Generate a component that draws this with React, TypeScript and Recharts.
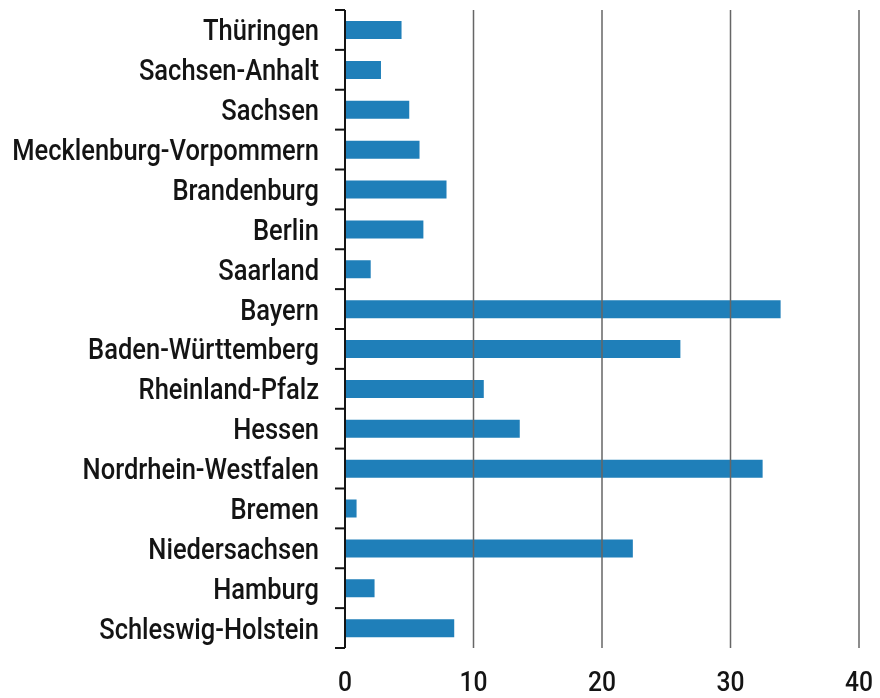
import { Bar, BarChart, ReferenceLine, XAxis, YAxis } from "recharts";

const states = [
  "Thüringen",
  "Sachsen-Anhalt",
  "Sachsen",
  "Mecklenburg-Vorpommern",
  "Brandenburg",
  "Berlin",
  "Saarland",
  "Bayern",
  "Baden-Württemberg",
  "Rheinland-Pfalz",
  "Hessen",
  "Nordrhein-Westfalen",
  "Bremen",
  "Niedersachsen",
  "Hamburg",
  "Schleswig-Holstein",
];
const values = [4.4, 2.8, 5.0, 5.8, 7.9, 6.1, 2.0, 33.9, 26.1, 10.8, 13.6, 32.5, 0.9, 22.4, 2.3, 8.5];
const xTicks = [0, 10, 20, 30, 40];

const FONT = "Roboto, 'Liberation Sans', sans-serif";
const INK = "#141414";
// no condensed face installed, so squeeze Roboto a bit
const SQUEEZE = 0.88;
const LABEL_GAP = 26;
const BRACKET = 10;

function NarrowText({ x, y, text, size, anchor, dy }: any) {
  return (
    <g transform={`translate(${x},${y}) scale(${SQUEEZE},1)`}>
      <text x={0} y={0} dy={dy} textAnchor={anchor} fill={INK} fontFamily={FONT} fontWeight={500} fontSize={size}>
        {text}
      </text>
    </g>
  );
}

// label plus the bracket ticks sitting on the band edges (payload.offset = half band)
const StateTick = (props: any) => {
  const { x, y, payload, index, visibleTicksCount } = props;
  const half = payload.offset ?? 0;
  const ax = x + LABEL_GAP;
  const last = index === visibleTicksCount - 1;
  return (
    <g>
      <line x1={ax - BRACKET} x2={ax} y1={y - half} y2={y - half} stroke={INK} strokeWidth={2} />
      {last && <line x1={ax - BRACKET} x2={ax} y1={y + half} y2={y + half} stroke={INK} strokeWidth={2} />}
      <NarrowText x={x} y={y} text={payload.value} size={29} anchor="end" dy="0.36em" />
    </g>
  );
};

const ValueTick = (props: any) => (
  <NarrowText x={props.x} y={props.y} text={props.payload.value} size={28} anchor="middle" dy="0.71em" />
);

export default function App() {
  const data = states.map((name, i) => ({ name, value: values[i] }));
  return (
    <div style={{ position: "fixed", left: 0, top: 0 }}>
      <BarChart
        width={880}
        height={698}
        layout="vertical"
        data={data}
        margin={{ top: 10, right: 21, bottom: 0, left: 0 }}
      >
        <XAxis
          type="number"
          domain={[0, 40]}
          ticks={xTicks}
          axisLine={false}
          tickLine={false}
          tickSize={0}
          tickMargin={23}
          height={50}
          tick={ValueTick}
        />
        <YAxis
          type="category"
          dataKey="name"
          width={345}
          axisLine={{ stroke: INK, strokeWidth: 2 }}
          tickLine={false}
          tickSize={0}
          tickMargin={LABEL_GAP}
          interval={0}
          tick={StateTick}
        />
        <Bar dataKey="value" fill="#1f7fb9" barSize={18} isAnimationActive={false} />
        {xTicks
          .filter((t) => t > 0)
          .map((t) => (
            <ReferenceLine key={t} x={t} stroke="#666666" strokeWidth={1.5} />
          ))}
      </BarChart>
    </div>
  );
}
